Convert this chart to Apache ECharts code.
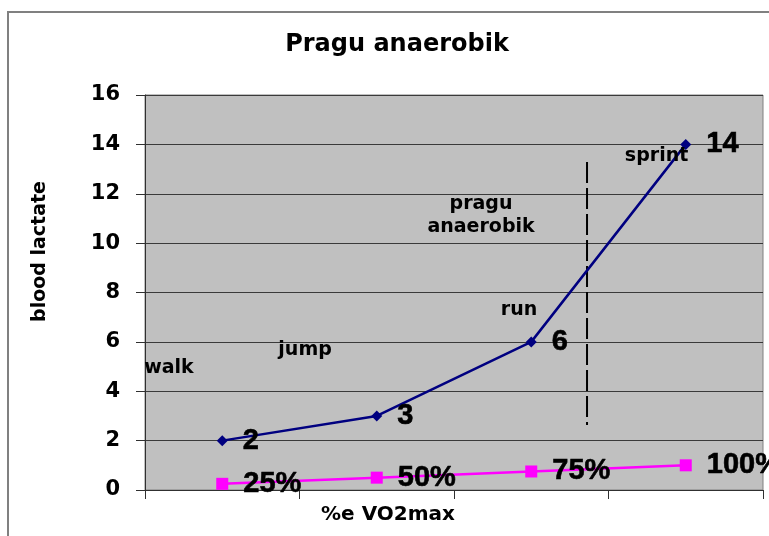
<!DOCTYPE html>
<html>
<head>
<meta charset="utf-8">
<script src="https://cdn.jsdelivr.net/npm/echarts@6/dist/echarts.min.js"></script>
<style>
html,body{margin:0;padding:0;background:#fff;}
#chart{width:769px;height:536px;}
</style>
</head>
<body>
<div id="chart"></div>
<script>
// ---- data ----
var categories = ['walk', 'jump', 'run', 'sprint'];
var lactate = [2, 3, 6, 14];
var vo2Fraction = [0.25, 0.5, 0.75, 1.0];
var vo2Labels = ['25%', '50%', '75%', '100%'];
var yTicks = { min: 0, max: 16, interval: 2 };
// annotations in data coordinates (x: category index scale, y: lactate)
var notes = [
  { text: 'walk', x: -0.345, y: 4.94 },
  { text: 'jump', x: 0.536, y: 5.67 },
  { text: 'run', x: 1.921, y: 7.3 },
  { text: 'pragu\nanaerobik', x: 1.675, y: 11.1 },
  { text: 'sprint', x: 2.811, y: 13.53 }
];
var thresholdLine = [[2.361, 13.29], [2.361, 2.63]];

var BOLD_ARIAL = '"Liberation Sans", Arial, sans-serif';
var BOLD_WIDE = '"DejaVu Sans", Verdana, sans-serif';

var chart = echarts.init(document.getElementById('chart'), null, { renderer: 'canvas' });
chart.setOption({
  backgroundColor: '#ffffff',
  animation: false,
  title: {
    text: 'Pragu anaerobik',
    left: 397,
    textAlign: 'center',
    top: 33,
    padding: 0,
    textStyle: { fontFamily: BOLD_WIDE, fontWeight: 'bold', fontSize: 24, color: '#000' }
  },
  graphic: [{
    type: 'rect',
    z: -10,
    shape: { x: 8, y: 12, width: 820, height: 600 },
    style: { fill: 'none', stroke: '#808080', lineWidth: 2 }
  }],
  grid: {
    left: 145, top: 95, width: 618, height: 395,
    show: true, backgroundColor: '#C0C0C0', borderColor: '#808080', borderWidth: 1
  },
  xAxis: [{
    type: 'category',
    data: categories,
    boundaryGap: true,
    name: '%e VO2max',
    nameLocation: 'middle',
    nameGap: 15,
    nameTextStyle: { fontFamily: BOLD_WIDE, fontWeight: 'bold', fontSize: 20, color: '#000', padding: [0, 132, 0, 0] },
    axisLine: { onZero: false, lineStyle: { color: '#303030', width: 1 } },
    axisTick: { show: true, length: 9, lineStyle: { color: '#303030' } },
    axisLabel: { show: false },
    splitLine: { show: false }
  }, {
    type: 'value',
    min: -0.5, max: 3.5,
    show: false,
    splitLine: { show: false },
    axisLine: { show: false, onZero: false }
  }],
  yAxis: {
    type: 'value',
    min: yTicks.min, max: yTicks.max, interval: yTicks.interval,
    name: 'blood lactate',
    nameLocation: 'middle',
    nameRotate: 90,
    nameGap: 95,
    nameTextStyle: { fontFamily: BOLD_WIDE, fontWeight: 'bold', fontSize: 19, color: '#000', padding: [0, 0, 0, 82] },
    axisLine: { show: true, onZero: false, lineStyle: { color: '#303030', width: 1 } },
    axisTick: { show: true, length: 9, lineStyle: { color: '#303030' } },
    axisLabel: { margin: 25, fontFamily: BOLD_WIDE, fontWeight: 'bold', fontSize: 21, color: '#000' },
    splitLine: { show: true, lineStyle: { color: '#3a3a3a', width: 1 } }
  },
  series: [{
    name: 'blood lactate',
    type: 'line',
    data: lactate,
    symbol: 'diamond',
    symbolSize: 11,
    itemStyle: { color: '#000080' },
    lineStyle: { color: '#000080', width: 2.5 },
    label: {
      show: true, position: 'right', distance: 15,
      fontFamily: BOLD_ARIAL, fontWeight: 'bold', fontSize: 29, color: '#000',
      textBorderColor: '#000', textBorderWidth: 0.6
    },
    z: 5
  }, {
    name: '%VO2max',
    type: 'line',
    data: vo2Fraction,
    symbol: 'rect',
    symbolSize: 12,
    itemStyle: { color: '#FF00FF' },
    lineStyle: { color: '#FF00FF', width: 2.5 },
    label: {
      show: true, position: 'right', distance: 15,
      formatter: function (p) { return vo2Labels[p.dataIndex]; },
      fontFamily: BOLD_ARIAL, fontWeight: 'bold', fontSize: 29, color: '#000',
      textBorderColor: '#000', textBorderWidth: 0.6
    },
    z: 5
  }, {
    name: 'threshold',
    type: 'line',
    xAxisIndex: 1,
    data: thresholdLine,
    symbol: 'none',
    silent: true,
    lineStyle: { color: '#000', width: 2, type: [21, 5] },
    z: 3
  }, {
    name: 'notes',
    type: 'scatter',
    xAxisIndex: 1,
    data: notes.map(function (n) { return { value: [n.x, n.y], name: n.text }; }),
    symbolSize: 0,
    itemStyle: { color: '#000', opacity: 1 },
    silent: true,
    label: {
      show: true, position: 'inside',
      formatter: function (p) { return p.name; },
      fontFamily: BOLD_WIDE, fontWeight: 'bold', fontSize: 19, color: '#000',
      textBorderWidth: 0, opacity: 1,
      lineHeight: 23, align: 'center', verticalAlign: 'middle'
    },
    z: 6
  }]
});
</script>
</body>
</html>
